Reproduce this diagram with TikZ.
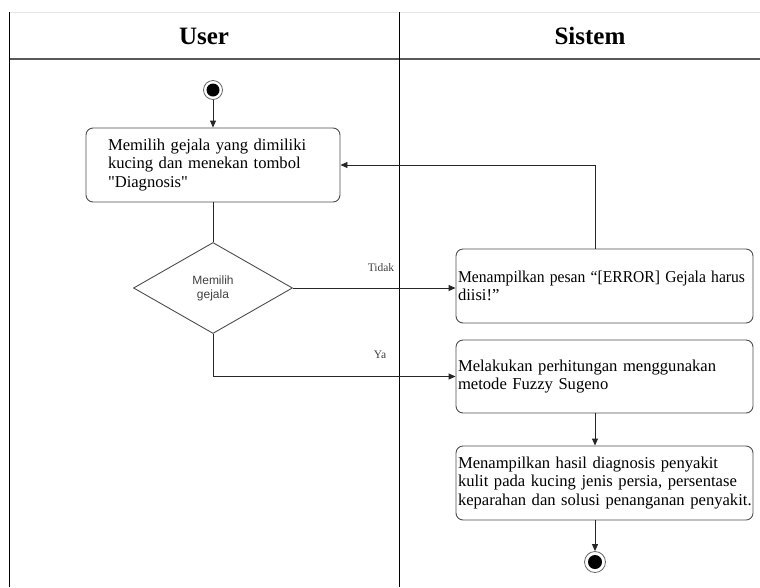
\documentclass[tikz,border=0pt]{standalone}
\usepackage{fontspec}
\usepackage{graphicx}
\setmainfont{Liberation Serif}
\newfontfamily\arialfont{Liberation Sans}
\usetikzlibrary{shapes.geometric,arrows.meta}
\definecolor{boxline}{HTML}{4D4D4D}
\definecolor{lanegray}{HTML}{E6E6E6}
\tikzset{
  actbox/.style={draw=boxline, line width=0.9pt, rounded corners=7pt, inner xsep=2pt, inner ysep=0pt,
    align=left, font=\fontsize{16.6}{18.5}\selectfont, anchor=north west},
  flow/.style={draw=black!85, line width=0.9pt, -{Triangle[length=7pt,width=6pt]}},
  plain/.style={draw=black!85, line width=0.9pt},
  lbl/.style={font=\fontsize{11.5}{12}\selectfont, text=black!75},
  head/.style={font=\bfseries\fontsize{25}{28}\selectfont}
}
\begin{document}
\begin{tikzpicture}[x=1pt,y=-1pt]
\useasboundingbox (0,0) rectangle (760,587);
% swimlanes
\draw[lanegray, line width=0.8pt] (9,12) -- (760,12);
\draw[black!65, line width=1.3pt] (9,59) -- (760,59);
\draw[black, line width=1pt] (9,12) -- (9,587);
\draw[black, line width=1pt] (399,12) -- (399,587);
\node[head] (huser) at (204,36) {User};
\node[head] (hsis) at (590,36) {Sistem};
% start
\node[circle, draw=black!60, line width=0.8pt, minimum size=19pt, inner sep=0pt] (start) at (213,90) {};
\node[circle, fill=black, minimum size=13pt, inner sep=0pt] at (start) {};
% box 1
\node[actbox, minimum width=254pt, minimum height=74pt, text width=210pt, inner xsep=22pt, anchor=center] (b1) at (213,165)
  {\mbox{Memilih gejala yang dimiliki}\\\mbox{kucing dan menekan tombol}\\\mbox{\textquotedbl Diagnosis\textquotedbl}};
% diamond
\node[diamond, draw=boxline, line width=0.9pt, minimum width=159pt, minimum height=91pt, inner sep=0pt, aspect=1.75,
  font=\arialfont\fontsize{12}{14}\selectfont, text=black!75, align=center] (d) at (213,288) {Memilih\\gejala};
% sistem boxes
\node[actbox, minimum width=297pt, minimum height=74pt, text width=293pt, anchor=center] (b2) at (604.5,286)
  {\resizebox{287pt}{\height}{Menampilkan pesan “[ERROR] Gejala harus}\\\mbox{diisi!”}};
\node[actbox, minimum width=297pt, minimum height=73pt, text width=293pt, anchor=center] (b3) at (604.5,376.5)
  {\mbox{Melakukan perhitungan menggunakan}\\\mbox{metode Fuzzy Sugeno}};
\node[actbox, minimum width=297pt, minimum height=74pt, text width=293pt, anchor=center] (b4) at (604.5,483)
  {\mbox{Menampilkan hasil diagnosis penyakit}\\\mbox{kulit pada kucing jenis persia, persentase}\\\mbox{keparahan dan solusi penanganan penyakit.}};
% end
\node[circle, draw=black!60, line width=0.8pt, minimum size=21pt, inner sep=0pt] (end) at (595,562) {};
\node[circle, fill=black, minimum size=14pt, inner sep=0pt] at (end) {};
% connectors
\draw[flow] (d.east) -- (d.east -| b2.west);
\node[lbl] (tidak) at (381,268) {Tidak};
\coordinate (ya) at (d.south |- b3.west);
\draw[flow] (d.south) -- (ya) -- (b3.west);
\node[lbl] (yalbl) at (380,355) {Ya};
\draw[flow] (start) -- (b1.north);
\draw[plain] (b1.south) -- (d.north);
\coordinate (loop) at (595,165);
\draw[flow] (b2.north -| loop) -- (loop) -- (b1.east);
\draw[flow] (b3.south -| end) -- (b4.north -| end);
\draw[flow] (b4.south -| end) -- (end);
\end{tikzpicture}
\end{document}
